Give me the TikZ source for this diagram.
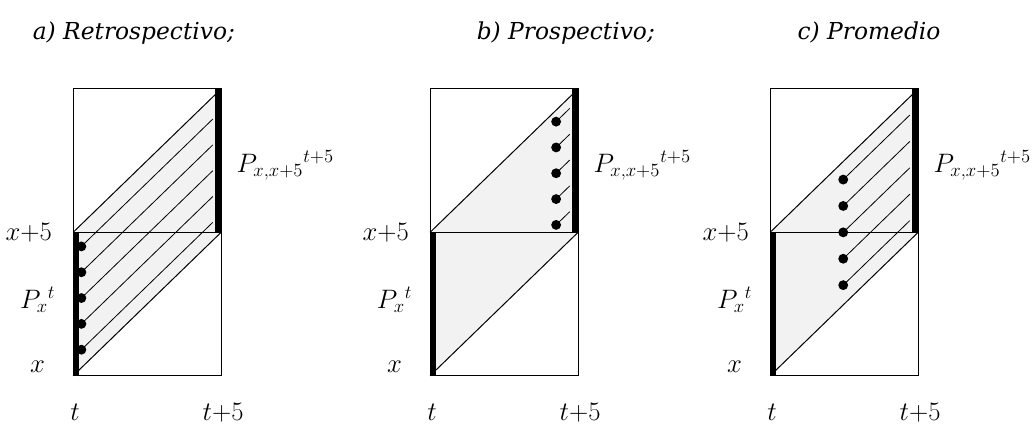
\RequirePackage{fix-cm}
\documentclass[tikz,border=0pt]{standalone}
\usepackage{fontspec}
\setmainfont{DejaVu Serif}

\tikzset{
  caja/.style={line width=0.75pt},
  fino/.style={line width=0.6pt},
  grueso/.style={line width=4.5pt},
  sombra/.style={fill=black!5},
  punto/.style={circle, fill=black, inner sep=0pt, minimum size=7.4pt},
  etiq/.style={font=\fontsize{20}{23}\selectfont, inner sep=1pt},
  titulo/.style={font=\fontsize{17.5}{20}\selectfont\itshape, anchor=base west},
}

\begin{document}
\begin{tikzpicture}[x=0.78cm, y=0.756cm]
  \useasboundingbox (-2.47,-1.74) rectangle (32.5,13.1);

  % títulos
  \node[titulo] (ta) at (-1.52,11.72) {a) Retrospectivo;};
  \node[titulo] (tb) at (13.48,11.72) {b) Prospectivo;};
  \node[titulo] (tc) at (24.32,11.72) {c) Promedio};

  % diagrama de Lexis de cada caso
  \foreach \dx/\nm in {0/a, 12.06/b, 23.55/c} {
    \begin{scope}[shift={(\dx,0)}]
      \fill[sombra] (0,0) -- (5,5) -- (5,10) -- (0,5) -- cycle;
      \draw[caja] (0,0) rectangle (5,10);
      \draw[caja] (0,5) -- (5,5);
      \draw[caja] (0,0) -- (5,5) (0,5) -- (5,10);
      % poblaciones observadas
      \draw[grueso] (0.1,0) -- (0.1,5);
      \draw[grueso] (4.9,5) -- (4.9,10);
      % ejes
      \node[etiq] (x\nm) at (-1.2,0.3) {$x$};
      \node[etiq] (x5\nm) at (-1.5,5) {$x{+}5$};
      \node[etiq] (px\nm) at (-1.2,2.65) {$P_x{}^t$};
      \node[etiq] (t\nm) at (0.07,-1.28) {$t$};
      \node[etiq] (t5\nm) at (5.07,-1.3) {$t{+}5$};
      \node[etiq, anchor=base west] (pxx\nm) at (5.47,7.1) {$P_{x,x+5}{}^{t+5}$};
    \end{scope}
  }

  % a) desde el inicio del periodo
  \foreach \h [count=\i] in {0.91,1.81,2.71,3.61,4.51} {
    \node[punto] (da\i) at (0.28,\h) {};
    \draw[fino] (da\i.center) -- ++(4.44,4.44);
  }

  % b) desde el final del periodo
  \begin{scope}[shift={(12.06,0)}]
    \foreach \h [count=\i] in {5.26,6.16,7.06,7.96,8.86} {
      \node[punto] (db\i) at (4.26,\h) {};
      \draw[fino] (db\i.center) -- ++(0.46,0.46);
    }
  \end{scope}

  % c) punto medio del periodo
  \begin{scope}[shift={(23.55,0)}]
    \foreach \h [count=\i] in {3.16,4.08,5,5.92,6.84} {
      \node[punto] (dc\i) at (2.47,\h) {};
      \draw[fino] (dc\i.center) -- ++(2.25,2.25);
    }
  \end{scope}
\end{tikzpicture}
\end{document}
